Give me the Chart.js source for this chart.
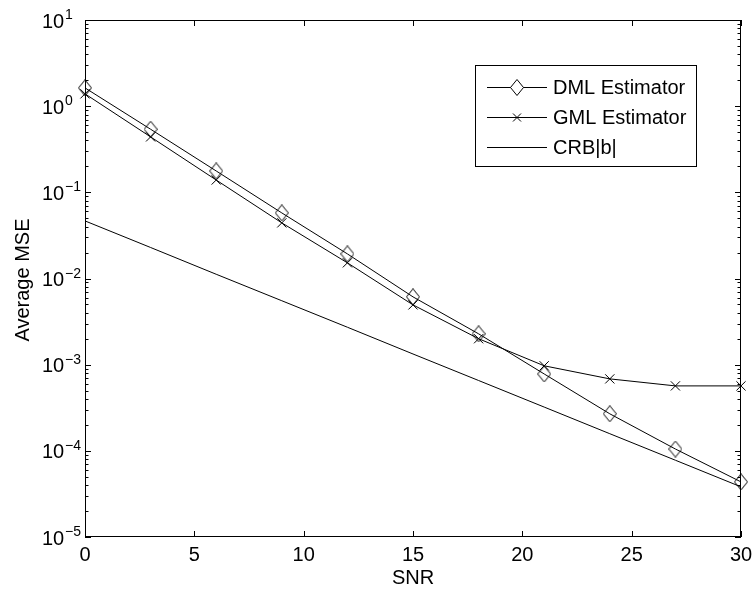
<!DOCTYPE html>
<html>
<head>
<meta charset="utf-8">
<script src="https://cdn.jsdelivr.net/npm/chart.js@4.4.0/dist/chart.umd.min.js"></script>
<style>
html,body{margin:0;padding:0;background:#fff;}
#wrap{width:753px;height:590px;}
</style>
</head>
<body>
<div id="wrap"><canvas id="c" width="753" height="590"></canvas></div>
<script>
// ---- data ----
const snr = [0, 3, 6, 9, 12, 15, 18, 21, 24, 27, 30];
const dmlMSE = [1.63, 0.54, 0.177, 0.0577, 0.0193, 0.00612, 0.00228, 0.00078, 0.000269, 0.000105, 0.0000436];
const gmlMSE = [1.39, 0.44, 0.139, 0.0442, 0.0152, 0.00494, 0.00200, 0.00097, 0.000684, 0.000567, 0.000567];
const crbMSE = [0.0466, 0.0229, 0.0112, 0.00552, 0.00272, 0.00133, 0.000655, 0.000322, 0.000158, 0.0000778, 0.0000382];
const xTicks = [0, 5, 10, 15, 20, 25, 30];
const yExponents = [1, 0, -1, -2, -3, -4, -5];
const seriesNames = ['DML Estimator', 'GML Estimator', 'CRB|b|'];
const xTitle = 'SNR';
const yTitle = 'Average MSE';

const FONT = '"Liberation Sans", Arial, Helvetica, sans-serif';

function makeDiamond(w, h) {
  const cv = document.createElement('canvas');
  cv.width = w; cv.height = h;
  const g = cv.getContext('2d');
  g.strokeStyle = '#000'; g.lineWidth = 1;
  g.beginPath();
  g.moveTo(w / 2, 0.5);
  g.lineTo(w - 0.5, h / 2);
  g.lineTo(w / 2, h - 0.5);
  g.lineTo(0.5, h / 2);
  g.closePath();
  g.stroke();
  return cv;
}
const diamond = makeDiamond(14, 17);

function pts(ys) { return snr.map((x, i) => ({x: x, y: ys[i]})); }

const decorPlugin = {
  id: 'decor',
  afterDraw(chart) {
    const ctx = chart.ctx;
    const xs = chart.scales.x, ys = chart.scales.y;
    const a = chart.chartArea;
    ctx.save();
    ctx.strokeStyle = '#000';
    ctx.fillStyle = '#000';
    ctx.lineWidth = 1;
    // box
    ctx.strokeRect(Math.round(a.left) + 0.5, Math.round(a.top) + 0.5,
      Math.round(a.right - a.left) - 1, Math.round(a.bottom - a.top) - 1);
    // x ticks
    ctx.beginPath();
    xTicks.forEach(t => {
      const px = Math.round(xs.getPixelForValue(t)) + 0.5;
      ctx.moveTo(px, a.bottom); ctx.lineTo(px, a.bottom - 6);
      ctx.moveTo(px, a.top); ctx.lineTo(px, a.top + 6);
    });
    // y ticks major and minor
    yExponents.forEach(e => {
      const v = Math.pow(10, e);
      const py = Math.round(ys.getPixelForValue(v)) + 0.5;
      ctx.moveTo(a.left, py); ctx.lineTo(a.left + 6, py);
      ctx.moveTo(a.right, py); ctx.lineTo(a.right - 6, py);
      if (e > -5) {
        for (let m = 2; m <= 9; m++) {
          const mv = m * Math.pow(10, e - 1);
          const my = Math.round(ys.getPixelForValue(mv)) + 0.5;
          ctx.moveTo(a.left, my); ctx.lineTo(a.left + 3.5, my);
          ctx.moveTo(a.right, my); ctx.lineTo(a.right - 3.5, my);
        }
      }
    });
    ctx.stroke();

    // x tick labels
    ctx.font = '20px ' + FONT;
    ctx.textAlign = 'center';
    ctx.textBaseline = 'middle';
    xTicks.forEach(t => {
      ctx.fillText(String(t), xs.getPixelForValue(t), a.bottom + 18);
    });
    // y tick labels 10^e
    yExponents.forEach(e => {
      const py = ys.getPixelForValue(Math.pow(10, e));
      ctx.font = '20px ' + FONT;
      ctx.textAlign = 'left';
      ctx.textBaseline = 'middle';
      ctx.fillText('10', 42, py + 2);
      ctx.font = '14px ' + FONT;
      ctx.textBaseline = 'alphabetic';
      const ex = e < 0 ? '\u2212' + Math.abs(e) : String(e);
      ctx.fillText(ex, 65, py - 1);
    });
    // axis titles
    ctx.font = '20px ' + FONT;
    ctx.textAlign = 'center';
    ctx.textBaseline = 'middle';
    ctx.fillText(xTitle, (a.left + a.right) / 2, 578);
    ctx.save();
    ctx.translate(23, 280);
    ctx.rotate(-Math.PI / 2);
    ctx.fillText(yTitle, 0, 0);
    ctx.restore();

    // legend
    const lx = 475.5, ly = 65.5, lw = 221, lh = 101;
    ctx.fillStyle = '#fff';
    ctx.fillRect(lx, ly, lw, lh);
    ctx.strokeRect(lx, ly, lw, lh);
    ctx.fillStyle = '#000';
    const rows = [87, 117, 147];
    rows.forEach((ry, i) => {
      const y = ry + 0.5;
      ctx.beginPath();
      ctx.moveTo(487, y); ctx.lineTo(547, y);
      ctx.stroke();
      if (i === 0) {
        ctx.fillStyle = '#fff';
        ctx.beginPath();
        ctx.moveTo(517, y - 8); ctx.lineTo(523.5, y); ctx.lineTo(517, y + 8); ctx.lineTo(510.5, y);
        ctx.closePath(); ctx.fill();
        ctx.fillStyle = '#000';
        ctx.drawImage(diamond, 517 - 7, y - 8.5);
      } else if (i === 1) {
        ctx.beginPath();
        ctx.moveTo(513, y - 4); ctx.lineTo(521, y + 4);
        ctx.moveTo(521, y - 4); ctx.lineTo(513, y + 4);
        ctx.stroke();
      }
      ctx.font = '20px ' + FONT;
      ctx.textAlign = 'left';
      ctx.textBaseline = 'middle';
      ctx.fillText(seriesNames[i], 553, ry + 1);
    });
    ctx.restore();
  }
};

new Chart(document.getElementById('c'), {
  type: 'line',
  data: {
    datasets: [
      {
        label: seriesNames[0], data: pts(dmlMSE), clip: false,
        borderColor: '#000', borderWidth: 1, backgroundColor: 'transparent',
        pointStyle: diamond, pointRadius: 7, pointBorderWidth: 1, tension: 0
      },
      {
        label: seriesNames[1], data: pts(gmlMSE), clip: false,
        borderColor: '#000', borderWidth: 1, backgroundColor: 'transparent',
        pointStyle: 'crossRot', pointRadius: 6.5, pointBorderColor: '#000', pointBorderWidth: 1, tension: 0
      },
      {
        label: seriesNames[2], data: pts(crbMSE), clip: false,
        borderColor: '#000', borderWidth: 1, backgroundColor: 'transparent',
        pointRadius: 0, tension: 0
      }
    ]
  },
  options: {
    responsive: false,
    animation: false,
    events: [],
    layout: { padding: { left: 0, right: 12, top: 20, bottom: 0 } },
    plugins: { legend: { display: false }, tooltip: { enabled: false } },
    scales: {
      x: {
        type: 'linear', min: 0, max: 30,
        grid: { display: false }, border: { display: false },
        ticks: { display: false },
        afterFit: s => { s.height = 53; }
      },
      y: {
        type: 'logarithmic', min: 1e-5, max: 10,
        grid: { display: false }, border: { display: false },
        ticks: { display: false },
        afterFit: s => { s.width = 85; }
      }
    }
  },
  plugins: [decorPlugin]
});
</script>
</body>
</html>
